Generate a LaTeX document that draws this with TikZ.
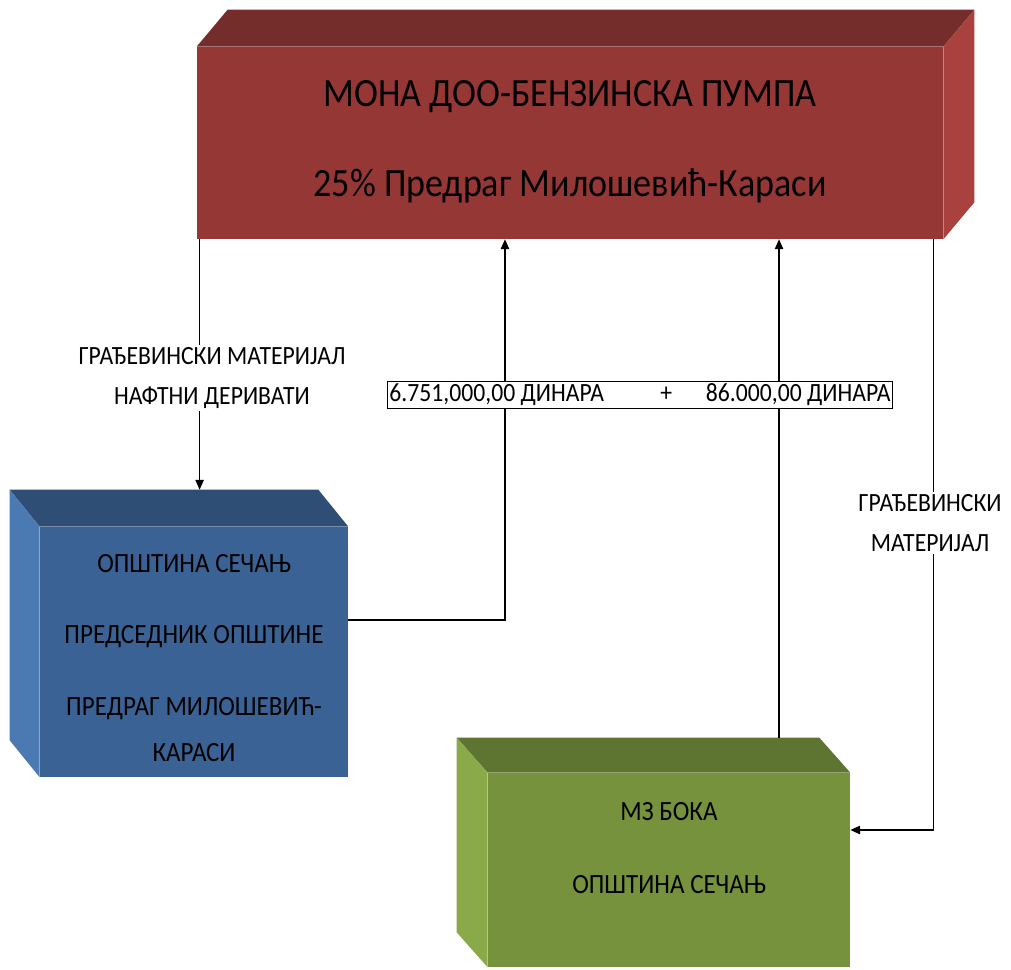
\documentclass[tikz,border=0pt]{standalone}
\usepackage{fontspec}
\setmainfont{Carlito}[FakeStretch=0.9]
\usetikzlibrary{arrows.meta}
\definecolor{monafront}{HTML}{953735}
\definecolor{monatop}{HTML}{742D2B}
\definecolor{monaside}{HTML}{A9423F}
\definecolor{opsfront}{HTML}{3B6294}
\definecolor{opstop}{HTML}{2E4E76}
\definecolor{opsside}{HTML}{4B79B2}
\definecolor{bokafront}{HTML}{76923C}
\definecolor{bokatop}{HTML}{5E7431}
\definecolor{bokaside}{HTML}{8AAA4A}

\tikzset{
  cube/.style={rectangle, inner sep=0pt},
  boxtxt/.style={align=center, text=black},
  lbl/.style={align=center, fill=white, inner sep=2pt, font=\fontsize{18.7}{28}\selectfont},
  arr/.style={-{Triangle[length=7pt,width=6pt]}, line width=0.8pt}
}

\begin{document}
\begin{tikzpicture}[x=0.025cm,y=-0.025cm]
\useasboundingbox (0,0) rectangle (1011,970);

% boxes
\node[cube, fill=monafront, minimum width=18.65cm, minimum height=4.8cm] (mona) at (570,143) {};
\fill[monatop] (mona.north west) -- ++(31,-37) -- ([shift={(31,-37)}]mona.north east) -- (mona.north east) -- cycle;
\fill[monaside] (mona.north east) -- ++(31,-37) -- ([shift={(31,-37)}]mona.south east) -- (mona.south east) -- cycle;
\node[boxtxt, font=\fontsize{28.5}{64}\selectfont] (monatxt) at (570,142) {МОНА ДОО-БЕНЗИНСКА ПУМПА\\25\% Предраг Милошевић-Караси};

\node[cube, fill=opsfront, minimum width=7.7cm, minimum height=6.25cm] (opstina) at (194,652) {};
\fill[opstop] (opstina.north west) -- ++(-30,-37) -- ([shift={(-30,-37)}]opstina.north east) -- (opstina.north east) -- cycle;
\fill[opsside] (opstina.north west) -- ++(-30,-37) -- ([shift={(-30,-37)}]opstina.south west) -- (opstina.south west) -- cycle;
\node[boxtxt, font=\fontsize{19.8}{33}\selectfont] (opstinatxt) at (194,658) {ОПШТИНА СЕЧАЊ\\[18pt]ПРЕДСЕДНИК ОПШТИНЕ\\[18pt]ПРЕДРАГ МИЛОШЕВИЋ-\\КАРАСИ};
\coordinate (opstinatop) at ([yshift=0.925cm]opstina.north);

\node[cube, fill=bokafront, minimum width=9.05cm, minimum height=4.85cm] (boka) at (669,870) {};
\fill[bokatop] (boka.north west) -- ++(-31,-35) -- ([shift={(-31,-35)}]boka.north east) -- (boka.north east) -- cycle;
\fill[bokaside] (boka.north west) -- ++(-31,-35) -- ([shift={(-31,-35)}]boka.south west) -- (boka.south west) -- cycle;
\node[boxtxt, font=\fontsize{19.8}{52}\selectfont] (bokatxt) at (669,848) {МЗ БОКА\\ОПШТИНА СЕЧАЊ};
\coordinate (bokatop) at ([xshift=2.75cm,yshift=0.875cm]boka.north);

% connectors
\draw[arr] ([xshift=0.075cm]mona.south west) -- ([xshift=0.075cm]mona.south west |- opstinatop);
\draw[arr] ([yshift=0.8cm]opstina.east) -| ([xshift=-1.625cm]mona.south);
\draw[arr] (bokatop) -- (bokatop |- mona.south);
\draw[arr] ([xshift=-0.25cm]mona.south east) |- ([yshift=1cm]boka.east);

% labels
\node[lbl] (gradjlevo) at (212,378) {ГРАЂЕВИНСКИ МАТЕРИЈАЛ\\НАФТНИ ДЕРИВАТИ};
\node[lbl] (gradjdesno) at (930,523) {ГРАЂЕВИНСКИ\\МАТЕРИЈАЛ};
\node[draw, fill=white, inner sep=1.5pt, line width=0.8pt, font=\fontsize{18.7}{20}\selectfont] (iznos) at (640,395)
  {6.751,000,00 ДИНАРА\hspace{40pt}+\hspace{24pt}86.000,00 ДИНАРА};
\end{tikzpicture}
\end{document}
